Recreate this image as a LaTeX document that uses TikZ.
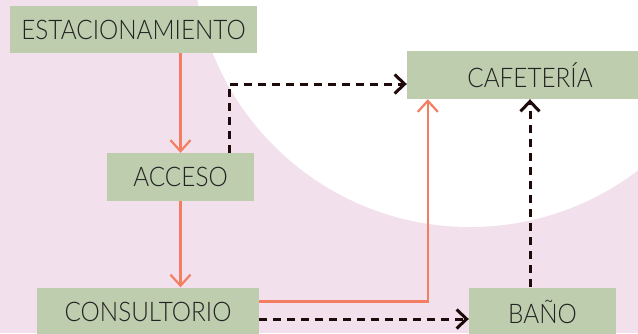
\documentclass[tikz,border=0pt]{standalone}
\usepackage{fontspec}
\setmainfont{Lato}[UprightFont=*-Light, FakeStretch=0.9]
\usetikzlibrary{arrows.meta,positioning,calc}

\definecolor{fondo}{RGB}{242,225,236}
\definecolor{caja}{RGB}{190,205,174}
\definecolor{texto}{RGB}{35,35,35}
\definecolor{salmon}{RGB}{244,126,98}
\definecolor{oscuro}{RGB}{30,10,10}

\begin{document}
\begin{tikzpicture}[x=1pt,y=-1pt,
  area/.style={fill=caja, text=texto, inner sep=0pt, minimum height=48pt,
    font=\fontsize{27}{30}\selectfont},
  ruta/.style={draw=salmon, line width=2.2pt, -{Straight Barb[length=11pt,width=20pt]}},
  opcional/.style={draw=oscuro, line width=3pt, dash pattern=on 8pt off 6pt,
    -{Straight Barb[length=10pt,width=19pt]}}]
\clip (0,0) rectangle (638,333);
\useasboundingbox (0,0) rectangle (638,333);
% fondo
\fill[fondo] (0,0) rectangle (638,333);
\fill[white] (470,-50) circle (277pt);
% areas
\node[area, minimum width=247pt, minimum height=47pt] (estac) at (133.5,29.5) {ESTACIONAMIENTO};
\node[area, minimum width=147pt] (acceso) at (180.5,177) {ACCESO};
\node[area, minimum width=222pt] (consul) at (148,311.5) {CONSULTORIO};
\node[area, minimum width=147pt] (bano) at (542.5,311.5) {BAÑO};
\node[area, minimum width=246pt] (cafe) at (530,75) {CAFETERÍA};
% recorrido principal
\draw[ruta] (estac.south -| acceso.north) -- (acceso.north);
\draw[ruta] (acceso.south) -- (consul.north -| acceso.south);
\draw[ruta] ([yshift=10pt]consul.east) -| ([xshift=21pt]cafe.south west);
% recorridos opcionales
\draw[opcional] ([xshift=-25pt]acceso.north east) |- ([yshift=-9pt]cafe.west);
\draw[opcional] ([yshift=-7.5pt]consul.east) -- ([yshift=-7.5pt]bano.west);
\draw[opcional] (bano.north -| cafe.south) -- (cafe.south);
\end{tikzpicture}
\end{document}
